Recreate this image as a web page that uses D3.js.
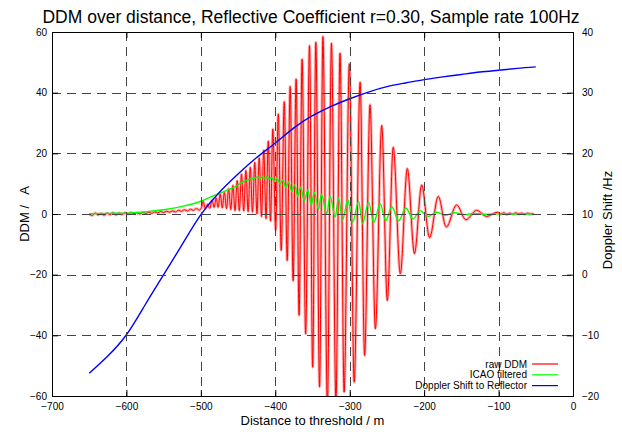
<!DOCTYPE html>
<html><head><meta charset="utf-8">
<script src="https://cdn.jsdelivr.net/npm/d3@7"></script>
<style>
body{margin:0;background:#fff}
svg{display:block}
text{font-family:"Liberation Sans",Arial,Helvetica,sans-serif;fill:#000;white-space:pre}
</style>
</head><body>
<svg id="chart" width="622" height="432"></svg>
<script>
// ---------- data ----------
const titleText = "DDM over distance, Reflective Coefficient r=0.30, Sample rate 100Hz";
const xLabel = "Distance to threshold / m";
const yLabel = "DDM /   A";
const y2Label = "Doppler Shift /Hz";
const xTicks = [-700, -600, -500, -400, -300, -200, -100, 0];
const yTicks = [-60, -40, -20, 0, 20, 40, 60];
const y2Ticks = [-20, -10, 0, 10, 20, 30, 40];
const seriesNames = ["raw DDM", "ICAO filtered", "Doppler Shift to Reflector"];
const seriesColors = ["#ff0000", "#00ff00", "#0000ff"];

// raw DDM [distance m, DDM]
const rawDDM = [
[-650,0.0],[-646,-0.5],[-642,0.3],[-638,-0.3],[-634,0.2],[-630,-0.4],[-626,0.3],[-622,-0.2],[-618,0.4],[-614,-0.3],
[-610,0.3],[-606,-0.2],[-602,0.4],[-598,0.0],[-594,0.5],[-590,0.1],[-586,0.4],[-582,0.0],[-578,0.5],[-574,0.2],
[-570,0.6],[-566,0.2],[-562,0.7],[-558,0.4],[-554,0.8],[-550,0.5],[-546,0.9],[-542,0.6],[-538,1.0],[-534,0.7],
[-530,1.2],[-526,0.9],[-522,1.4],[-518,1.0],[-514,1.6],[-510,1.2],[-506,1.8],[-502,1.3],[-499,2.2],[-497,4.2],
[-494,1.8],[-491,3.2],[-488,1.9],
[-485,4.6],[-482.2,2.2],[-479.5,5.3],[-476.7,2.2],[-474,6.6],[-471.2,2.0],[-468.4,7.1],[-465.5,1.8],[-462.7,8.3],
[-459.8,1.5],[-457,9.4],[-454.1,1.1],[-451.2,11.0],[-448.3,1.1],[-445.4,13.2],[-442.4,1.0],[-439.5,14.3],[-436.5,0.8],
[-433.6,15.4],[-430.6,0.6],[-427.6,17.0],[-424.6,0.0],[-421.6,18.5],[-418.5,-0.8],[-415.5,21.0],[-412.4,-1.5],
[-409.4,24.0],[-406.4,-2.3],[-403.3,28.0],[-399.5,-5.4],[-396,33.0],[-392,-12.0],[-388,37.0],[-384,-15.3],
[-380,42.0],[-376,-22.0],[-372,44.5],[-368,-33.4],[-364,51.0],[-359.2,-39.5],[-354,55.5],[-349.8,-50.5],
[-345.5,56.6],[-340.5,-57.0],[-336,58.5],[-330,-63.0],[-324.5,56.3],[-318.5,-62.0],[-313,53.0],[-307.5,-58.7],
[-300.5,49.5],[-294,-55.4],[-286,43.4],[-280,-46.6],[-272.7,36.0],[-265.5,-37.8],[-257,29.2],[-249.5,-28.5],
[-241.5,22.0],[-232,-19.7],[-222.6,15.0],[-213,-13.1],[-203.3,9.6],[-192.7,-7.8],[-181,5.8],[-170.3,-4.3],
[-156.3,3.0],[-144,-1.9],[-129.5,1.2],[-116,-0.8],[-101.3,0.6],
[-97,-0.1],[-93,0.4],[-89,-0.2],[-85,0.3],[-81,-0.1],[-77,0.4],[-73,0.0],[-69,0.3],[-65,-0.1],[-61,0.3],[-57,0.0],[-53,0.2]
];

// ICAO filtered DDM [distance m, DDM]
const icaoFiltered = [
[-650,0.1],[-625,0.2],[-600,0.3],[-575,0.7],[-550,1.4],[-525,2.5],[-500,4.2],[-485,5.8],[-470,7.3],[-455,8.9],
[-440,11.0],[-430,11.7],
[-423.6,12.2],[-420.5,11.7],[-417.5,12.3],[-414.4,11.8],[-411.4,12.3],[-408.4,11.5],[-405.3,12.0],[-401,10.9],
[-398,11.8],[-393.4,9.9],[-390,11.3],[-385.8,8.8],[-382,10.5],[-377.8,7.4],[-374,9.6],[-369.7,5.8],[-366,8.8],
[-361.2,4.4],[-356,7.9],[-351.8,3.0],[-347.5,7.1],[-342,1.5],[-338,6.5],[-330.8,0.0],[-326.5,6.0],[-319.5,-1.0],
[-315,5.4],[-309.7,-2.0],[-302.5,4.6],[-296,-2.7],[-288,4.2],[-282.8,-3.2],[-274.7,3.9],[-267.7,-2.8],[-259,3.3],
[-251.6,-2.2],[-243.5,2.4],[-234.2,-2.2],[-224.6,2.0],[-215,-1.6],[-205.3,1.1],[-194.7,-0.8],[-183,0.6],
[-172.3,-0.4],[-158.3,0.4],[-146,-0.2],[-131.5,0.2],[-118,-0.1],[-100,0.05],[-75,0.0],[-52,0.0]
];

// Doppler shift to reflector [distance m, Hz] (right axis)
const dopplerShift = [
[-650,-16.25],[-625,-13.4],[-600,-9.9],[-575,-5.0],[-550,0.0],[-525,5.0],[-500,9.9],[-475,13.6],
[-450,16.6],[-425,19.3],[-400,21.7],[-375,24.2],[-350,26.2],[-325,27.75],[-300,29.0],[-275,30.1],
[-250,31.0],[-225,31.6],[-200,32.15],[-175,32.6],[-150,33.0],[-125,33.4],[-100,33.7],[-75,34.0],[-50,34.25]
];

// ---------- drawing ----------
const svg = d3.select("#chart");
const L = 52, R = 573, T = 32, B = 396;
const x = d3.scaleLinear().domain([-700, 0]).range([L, R]);
const y = d3.scaleLinear().domain([-60, 60]).range([B, T]);
const y2 = d3.scaleLinear().domain([-20, 40]).range([B, T]);

svg.append("rect").attr("width", 622).attr("height", 432).attr("fill", "#fff");

svg.append("defs").append("clipPath").attr("id", "clip")
  .append("rect").attr("x", L).attr("y", T).attr("width", R - L).attr("height", B - T);

const plot = svg.append("g").attr("clip-path", "url(#clip)");

const lineY = d3.line().x(d => x(d[0])).y(d => y(d[1])).curve(d3.curveMonotoneX);
const lineY2 = d3.line().x(d => x(d[0])).y(d => y2(d[1])).curve(d3.curveNatural);

// raw DDM with light halo to mimic dense sample shading
plot.append("path").datum(rawDDM).attr("d", lineY)
  .attr("fill", "none").attr("stroke", "rgba(255,0,0,0.3)").attr("stroke-width", 3);
plot.append("path").datum(rawDDM).attr("d", lineY)
  .attr("fill", "none").attr("stroke", seriesColors[0]).attr("stroke-width", 1);
plot.append("path").datum(icaoFiltered).attr("d", lineY)
  .attr("fill", "none").attr("stroke", seriesColors[1]).attr("stroke-width", 1.4);
plot.append("path").datum(dopplerShift).attr("d", lineY2)
  .attr("fill", "none").attr("stroke", seriesColors[2]).attr("stroke-width", 1.4);

// grid (front, as gnuplot)
const grid = svg.append("g").attr("stroke", "#444").attr("stroke-width", 1).attr("stroke-dasharray", "9,6");
xTicks.slice(1, -1).forEach(t => grid.append("line")
  .attr("x1", Math.round(x(t)) + 0.5).attr("x2", Math.round(x(t)) + 0.5).attr("y1", T).attr("y2", B));
yTicks.slice(1, -1).forEach(t => grid.append("line")
  .attr("y1", Math.round(y(t)) + 0.5).attr("y2", Math.round(y(t)) + 0.5).attr("x1", L).attr("x2", R));

// axes via d3 axis generators (inner ticks)
const fmt = d3.format("d");
const axB = svg.append("g").attr("transform", `translate(0,${B})`)
  .call(d3.axisBottom(x).tickValues(xTicks).tickSize(-6).tickPadding(7).tickFormat(fmt));
const axT = svg.append("g").attr("transform", `translate(0,${T})`)
  .call(d3.axisTop(x).tickValues(xTicks).tickSize(-6).tickFormat(""));
const axLft = svg.append("g").attr("transform", `translate(${L},0)`)
  .call(d3.axisLeft(y).tickValues(yTicks).tickSize(-6).tickPadding(5).tickFormat(fmt));
const axRt = svg.append("g").attr("transform", `translate(${R},0)`)
  .call(d3.axisRight(y2).tickValues(y2Ticks).tickSize(-6).tickPadding(9).tickFormat(fmt));
[axB, axT, axLft, axRt].forEach(g => {
  g.select(".domain").remove();
  g.selectAll("line").attr("stroke", "#000");
  g.selectAll("text").attr("font-size", 10).attr("fill", "#000")
    .attr("font-family", '"Liberation Sans",Arial,sans-serif');
});

// frame
svg.append("rect").attr("x", L + 0.5).attr("y", T + 0.5).attr("width", R - L).attr("height", B - T)
  .attr("fill", "none").attr("stroke", "#000").attr("stroke-width", 1);

// title & labels
svg.append("text").attr("x", 311).attr("y", 23).attr("text-anchor", "middle")
  .attr("font-size", 17.5).text(titleText);
svg.append("text").attr("x", (L + R) / 2).attr("y", 425).attr("text-anchor", "middle")
  .attr("font-size", 13).text(xLabel);
svg.append("text").attr("transform", "translate(29,214) rotate(-90)").attr("text-anchor", "middle")
  .attr("font-size", 13).attr("xml:space", "preserve").text(yLabel);
svg.append("text").attr("transform", "translate(612,220) rotate(-90)").attr("text-anchor", "middle")
  .attr("font-size", 13).text(y2Label);

// legend
const lg = svg.append("g");
seriesNames.forEach((n, i) => {
  const yy = 364 + i * 10.8;
  lg.append("text").attr("x", 527).attr("y", yy).attr("dy", "0.35em").attr("text-anchor", "end")
    .attr("font-size", 10).text(n);
  lg.append("line").attr("x1", 532).attr("x2", 558).attr("y1", yy).attr("y2", yy)
    .attr("stroke", seriesColors[i]).attr("stroke-width", 1.2);
});
</script>
</body></html>
